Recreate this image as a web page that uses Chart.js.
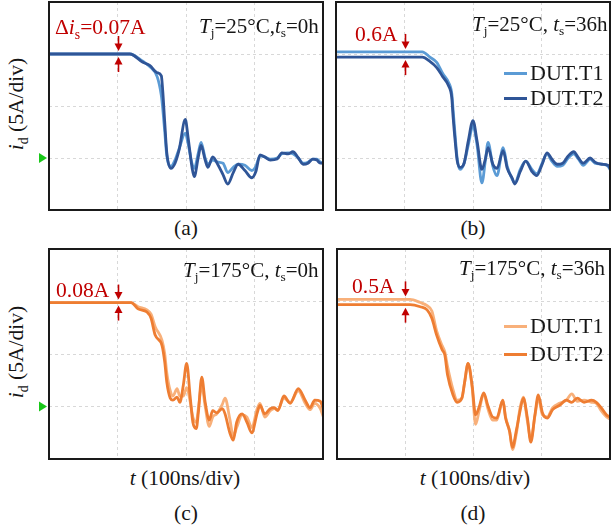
<!DOCTYPE html>
<html>
<head>
<meta charset="utf-8">
<script src="https://cdn.jsdelivr.net/npm/chart.js@4.4.1/dist/chart.umd.min.js"></script>
<style>
body{margin:0;background:#fff}
#fig{position:relative;width:612px;height:529px;overflow:hidden;font-family:'Liberation Serif','Times New Roman',serif;color:#161616}
.pane{position:absolute}
.lbl{position:absolute;white-space:nowrap;font-size:21.5px;line-height:22px}
.ttl{font-size:21px}
.leg{font-size:22px}
.red{color:#c00000}
.mid{transform:translate(-50%,-50%)}
.rot{transform-origin:0 0;transform:rotate(-90deg) translate(-50%,-50%)}
.sub{font-size:0.64em;position:relative;top:0.33em}
.key{display:inline-block;width:23px;height:3px;vertical-align:middle;margin-right:3px;position:relative;top:-1px}
</style>
</head>
<body>
<div id="fig">
  <canvas id="cA" class="pane" width="290" height="212" style="left:35px;top:0px"></canvas>
  <canvas id="cB" class="pane" width="278" height="212" style="left:334px;top:0px"></canvas>
  <canvas id="cC" class="pane" width="290" height="214" style="left:35px;top:246.5px"></canvas>
  <canvas id="cD" class="pane" width="277" height="214" style="left:335px;top:246.5px"></canvas>

  <div class="lbl red" style="left:55px;top:16px">Δ<i>i</i><span class="sub">s</span>=0.07A</div>
  <div class="lbl ttl" style="left:199px;top:15px"><i>T</i><span class="sub">j</span>=25°C,<i>t</i><span class="sub">s</span>=0h</div>
  <div class="lbl red" style="left:355px;top:23px">0.6A</div>
  <div class="lbl ttl" style="left:472px;top:13px"><i>T</i><span class="sub">j</span>=25°C, <i>t</i><span class="sub">s</span>=36h</div>
  <div class="lbl red" style="left:56px;top:279px">0.08A</div>
  <div class="lbl ttl" style="left:183px;top:259px"><i>T</i><span class="sub">j</span>=175°C, <i>t</i><span class="sub">s</span>=0h</div>
  <div class="lbl red" style="left:352px;top:275px">0.5A</div>
  <div class="lbl ttl" style="left:459px;top:257px"><i>T</i><span class="sub">j</span>=175°C, <i>t</i><span class="sub">s</span>=36h</div>

  <div class="lbl leg" style="left:504px;top:62px"><span class="key" style="background:#5b9bd5"></span>DUT.T1</div>
  <div class="lbl leg" style="left:504px;top:87px"><span class="key" style="background:#2f5597"></span>DUT.T2</div>
  <div class="lbl leg" style="left:504px;top:315px"><span class="key" style="background:#f8b07a"></span>DUT.T1</div>
  <div class="lbl leg" style="left:504px;top:343px"><span class="key" style="background:#ee7d32"></span>DUT.T2</div>

  <div class="lbl rot" style="left:17px;top:104px"><i>i</i><span class="sub">d</span> (5A/div)</div>
  <div class="lbl rot" style="left:17px;top:352px"><i>i</i><span class="sub">d</span> (5A/div)</div>
  <div class="lbl mid" style="left:185px;top:478px"><i>t</i> (100ns/div)</div>
  <div class="lbl mid" style="left:475px;top:478px"><i>t</i> (100ns/div)</div>
  <div class="lbl mid" style="left:186px;top:228px">(a)</div>
  <div class="lbl mid" style="left:473px;top:228px">(b)</div>
  <div class="lbl mid" style="left:186px;top:513px">(c)</div>
  <div class="lbl mid" style="left:473px;top:513px">(d)</div>
</div>
<script>
// time in ns (100 ns/div), current in A (5 A/div), zero level at the green marker
const tA = [0,118,137,147,158,164,166,169,172,178,184,190,199,203,209,212,218,222,228,232,239,247,254,261,269,276,286,296,302,308,315,323,333,340,349,356,364,371,378,385,391,396,400];
const aT1 = [10,10,9.3,8.8,7.8,6.0,4.8,2.5,0.2,-0.8,-0.2,0.9,2.4,1.4,-0.6,-1.0,0.5,1.5,0.0,-0.6,-0.2,-0.4,-0.5,-1.4,-0.9,-0.6,-0.7,-1.2,-0.8,0.2,0.1,-0.1,0.0,0.4,0.5,0.4,0.0,-0.5,-0.4,-0.1,-0.1,-0.4,-0.5];
const aT2 = [10,10,9.2,8.9,8.2,7.9,6.5,3.4,0.5,-1.0,-0.5,0.8,3.7,2.0,-1.0,-1.8,0.1,1.2,-0.2,-0.9,0.1,-0.7,-1.6,-2.5,-1.4,-0.6,-1.2,-1.9,-1.3,0.3,0.1,-0.2,-0.1,0.5,0.4,0.6,0.0,-0.6,-0.5,-0.1,-0.2,-0.5,-0.5];

const tB = [0,126,137,147,156,164,169,171,174,177,181,187,193,200,206,213,218,222,229,235,244,250,257,261,269,277,286,293,301,308,315,323,331,339,347,354,361,371,378,388,397,400];
const bT1 = [10.2,10.2,9.7,9.2,8.1,7.3,6.2,4.6,2.1,-0.1,-1.1,-0.5,1.2,3.1,1.2,-2.4,-0.3,1.5,-0.8,-1.7,1.0,-0.8,-2.0,-2.4,-1.1,-0.3,-1.1,-1.5,-0.5,0.4,-0.3,-0.8,-0.7,0.0,0.4,-0.1,-0.7,-0.1,-0.5,-0.6,-0.8,-1.1];
const bT2 = [9.7,9.7,9.3,8.7,7.8,7.0,5.8,3.9,1.6,-0.3,-0.9,-0.5,1.6,3.6,1.6,-1.1,-0.1,1.0,-0.6,-1.0,0.7,-1.0,-1.9,-2.5,-1.3,-0.3,-1.3,-1.7,-0.6,0.5,-0.1,-0.6,-0.5,0.2,0.6,0.0,-0.5,0.0,-0.4,-0.6,-0.7,-1.0];

const tC = [0,120,130,143,149,155,165,169,172,177,181,187,191,196,201,206,210,215,218,223,228,234,239,245,253,257,264,269,274,282,289,296,304,308,315,323,329,334,343,352,364,374,381,388,396,400];
const cT1 = [9.9,9.9,9.5,9.2,8.8,7.6,6.3,5.0,3.2,1.5,1.0,1.7,1.0,1.0,1.8,0.5,-1.0,-1.5,-0.2,2.0,0.0,-1.9,-1.0,-0.7,0.2,0.8,-1.2,-2.8,-2.0,-0.8,-1.0,-2.0,-0.2,0.3,-1.0,-0.4,-0.2,-0.3,0.8,0.4,1.5,0.3,-0.3,0.3,-0.2,-0.9];
const cT2 = [9.9,9.9,9.3,9.0,8.4,6.8,5.8,4.2,2.3,0.8,0.6,0.9,0.4,2.0,4.1,1.0,-1.5,-2.1,-0.6,2.8,0.4,-1.3,-0.4,-0.6,-0.2,-0.7,-2.5,-3.2,-1.5,-0.7,-1.5,-2.5,-0.6,0.1,-0.7,-0.2,-0.1,-0.4,1.0,0.3,1.7,0.6,-0.1,0.6,0.5,-0.2];

const tD = [0,107,122,132,139,146,154,158,162,170,176,183,187,192,198,203,208,215,221,228,234,243,247,253,257,263,268,273,279,284,290,295,301,308,316,326,336,344,352,362,373,380,387,395,400];
const dT1 = [10.2,10.2,9.9,9.6,9.1,7.2,5.8,5.2,3.8,1.6,0.6,0.8,2.3,4.1,1.8,-1.7,-0.5,1.2,-0.2,-1.3,-1.3,0.6,-1.0,-2.4,-4.1,-2.5,-0.2,0.9,-1.4,-3.1,-0.9,0.8,-0.8,-1.0,-0.1,0.3,0.6,1.2,0.5,0.6,0.4,0.3,-0.4,-1.0,-1.2];
const dT2 = [9.7,9.7,9.5,9.2,8.4,6.8,5.4,4.9,3.0,1.1,0.4,0.8,2.3,4.1,2.0,-0.8,-0.1,1.3,0.1,-1.0,-1.1,0.6,-1.1,-2.4,-3.9,-2.2,-0.5,0.8,-1.1,-3.4,-0.8,1.1,-0.6,-1.1,-0.3,0.1,0.6,0.4,0.8,0.4,0.6,0.4,-0.1,-0.8,-1.0];

const blues = ['#5b9bd5', '#2f5597'];
const oranges = ['#f8b07a', '#ee7d32'];
const RED = '#c00000';

const pairs = (t, v) => t.map((x, i) => ({x, y: v[i]}));

// frame, red delta arrows and the green zero marker
const extras = {
  id: 'extras',
  afterDraw(chart, args, o) {
    const {ctx, chartArea: a, scales: {x, y}} = chart;
    ctx.save();
    ctx.strokeStyle = '#1a1a1a';
    ctx.lineWidth = 2;
    ctx.strokeRect(a.left, a.top, a.right - a.left, a.bottom - a.top);

    const ax = Math.round(x.getPixelForValue(o.arrowAt)) + 0.5;
    const yHi = y.getPixelForValue(o.hi) - 3, yLo = y.getPixelForValue(o.lo) + 3;
    ctx.strokeStyle = RED; ctx.fillStyle = RED; ctx.lineWidth = 1.6;
    [[yHi, -1], [yLo, 1]].forEach(([tip, dir]) => {
      ctx.beginPath();
      ctx.moveTo(ax, tip + dir * 15);
      ctx.lineTo(ax, tip + dir * 6);
      ctx.stroke();
      ctx.beginPath();
      ctx.moveTo(ax, tip);
      ctx.lineTo(ax - 4, tip + dir * 7.5);
      ctx.lineTo(ax + 4, tip + dir * 7.5);
      ctx.closePath();
      ctx.fill();
    });

    if (o.marker) {
      const y0 = y.getPixelForValue(0);
      ctx.fillStyle = '#19c819';
      ctx.beginPath();
      ctx.moveTo(a.left - 2, y0);
      ctx.lineTo(a.left - 10, y0 - 5);
      ctx.lineTo(a.left - 10, y0 + 5);
      ctx.closePath();
      ctx.fill();
    }
    ctx.restore();
  }
};

function panel(id, t, v1, v2, colors, ex) {
  const pad = ex.marker ? {left: 14, right: 2, top: 2, bottom: 2} : 2;
  return new Chart(document.getElementById(id), {
    type: 'line',
    data: {datasets: [
      {label: 'DUT.T1', data: pairs(t, v1), borderColor: colors[0], order: 1},
      {label: 'DUT.T2', data: pairs(t, v2), borderColor: colors[1], order: 0}
    ]},
    options: {
      responsive: false, animation: false, devicePixelRatio: 1,
      layout: {padding: pad},
      elements: {
        line: {borderWidth: 2.8, cubicInterpolationMode: 'monotone', borderCapStyle: 'round', borderJoinStyle: 'round'},
        point: {radius: 0}
      },
      scales: {
        x: {type: 'linear', min: 0, max: 400,
            ticks: {display: false, stepSize: 100},
            grid: {color: '#d8d8d8', drawTicks: false},
            border: {display: false, dash: [3, 3]}},
        y: {min: -5, max: 15,
            ticks: {display: false, stepSize: 5},
            grid: {color: '#d8d8d8', drawTicks: false},
            border: {display: false, dash: [3, 3]}}
      },
      plugins: {legend: {display: false}, tooltip: {enabled: false}, extras: ex}
    },
    plugins: [extras]
  });
}

panel('cA', tA, aT1, aT2, blues, {arrowAt: 100, hi: 10, lo: 10, marker: true});
panel('cB', tB, bT1, bT2, blues, {arrowAt: 100, hi: 10.2, lo: 9.7});
panel('cC', tC, cT1, cT2, oranges, {arrowAt: 100, hi: 9.9, lo: 9.9, marker: true});
panel('cD', tD, dT1, dT2, oranges, {arrowAt: 100, hi: 10.2, lo: 9.7});
</script>
</body>
</html>
